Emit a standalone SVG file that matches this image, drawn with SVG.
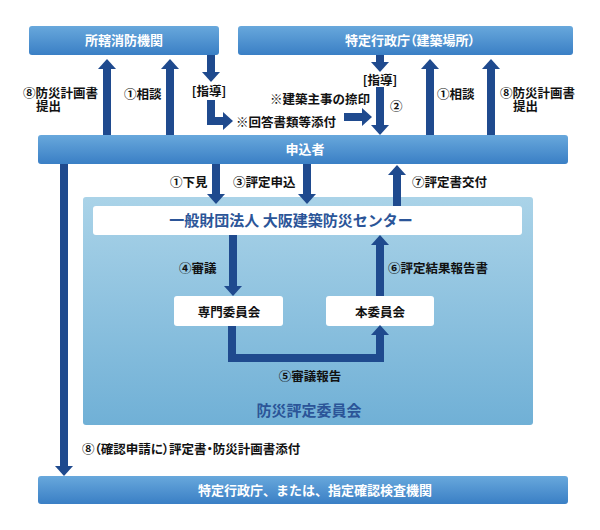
<svg xmlns="http://www.w3.org/2000/svg" width="600" height="530" viewBox="0 0 600 530">
<defs>
<linearGradient id="gBox" x1="0" y1="0" x2="0" y2="1">
<stop offset="0" stop-color="#68a8dc"/>
<stop offset="1" stop-color="#3a7fc5"/>
</linearGradient>
<linearGradient id="gPanel" x1="0" y1="0" x2="0" y2="1">
<stop offset="0" stop-color="#aad3e8"/>
<stop offset="1" stop-color="#70b0d6"/>
</linearGradient>
<marker id="ah" viewBox="0 0 10 18" refX="0" refY="9" markerWidth="10" markerHeight="18" markerUnits="userSpaceOnUse" orient="auto">
<path d="M0,0 L10,9 L0,18 z" fill="#1f4a8e"/>
</marker>
<style>
text{font-family:"Noto Sans CJK JP","Noto Sans",sans-serif;font-weight:bold}
.bx{fill:url(#gBox)}
.bt{fill:#ffffff;font-size:13px;text-anchor:middle}
.wb{fill:#ffffff}
.lb{fill:#111111;font-size:12.5px}
.nb{fill:#2b5598;font-size:15px;text-anchor:middle}
.p{font-feature-settings:"palt"}
.c{stroke:#1f4a8e;stroke-width:8;fill:none;marker-end:url(#ah)}
</style>
</defs>
<rect width="600" height="530" fill="#ffffff"/>

<g id="panel">
<rect x="83" y="197" width="450" height="228" rx="3" fill="url(#gPanel)"/>
<text class="nb" x="309" y="416">防災評定委員会</text>
</g>

<g id="fire">
<rect class="bx" x="29" y="26" width="190" height="29" rx="3"/>
<text class="bt" x="124" y="45">所轄消防機関</text>
</g>
<g id="gov">
<rect class="bx" x="238" y="26" width="335" height="29" rx="3"/>
<text class="bt p" x="410" y="45">特定行政庁（建築場所）</text>
</g>
<g id="applicant">
<rect class="bx" x="38" y="135" width="530" height="29" rx="3"/>
<text class="bt" x="305" y="154">申込者</text>
</g>
<g id="center">
<rect class="wb" x="93" y="206" width="429" height="29" rx="3"/>
<text class="nb" x="291" y="226">一般財団法人 大阪建築防災センター</text>
</g>
<g id="senmon">
<rect class="wb" x="174" y="296" width="109" height="30" rx="3"/>
<text class="lb" x="229" y="317" text-anchor="middle">専門委員会</text>
</g>
<g id="hon">
<rect class="wb" x="326" y="296" width="108" height="30" rx="3"/>
<text class="lb" x="380" y="317" text-anchor="middle">本委員会</text>
</g>
<g id="final">
<rect class="bx" x="38" y="476" width="530" height="28" rx="3"/>
<text class="bt" x="315" y="495">特定行政庁、または、指定確認検査機関</text>
</g>

<g id="connectors">
<path class="c" d="M107,135 V69"/>
<path class="c" d="M170,135 V69"/>
<path class="c" d="M211,55 V72"/>
<path class="c" d="M211,100 V121 H223" stroke-linejoin="miter"/>
<path class="c" d="M344,117 H362"/>
<path class="c" d="M380,55 V62"/>
<path class="c" d="M380,87 V125"/>
<path class="c" d="M430,135 V69"/>
<path class="c" d="M491,135 V69"/>
<path class="c" d="M64,164 V466"/>
<path class="c" d="M216,164 V194"/>
<path class="c" d="M307,164 V194"/>
<path class="c" d="M397,206 V175"/>
<path class="c" d="M233,235 V286"/>
<path class="c" d="M380,296 V245"/>
<path class="c" d="M232,326 V358 H380 V335" stroke-linejoin="miter"/>
</g>

<g id="labels">
<text class="lb" x="23" y="98">⑧防災計画書<tspan x="36" y="111">提出</tspan></text>
<text class="lb" x="124" y="99">①相談</text>
<text class="lb" x="209" y="96" text-anchor="middle">[指導]</text>
<text class="lb" x="370" y="104" text-anchor="end">※建築主事の捺印</text>
<text class="lb" x="236" y="127">※回答書類等添付</text>
<text class="lb" x="380" y="85" text-anchor="middle">[指導]</text>
<text class="lb" x="390" y="111">②</text>
<text class="lb" x="437" y="99">①相談</text>
<text class="lb" x="500" y="98">⑧防災計画書<tspan x="513" y="111">提出</tspan></text>
<text class="lb" x="170" y="187">①下見</text>
<text class="lb" x="233" y="187">③評定申込</text>
<text class="lb" x="412" y="187">⑦評定書交付</text>
<text class="lb" x="179" y="273">④審議</text>
<text class="lb" x="388" y="273">⑥評定結果報告書</text>
<text class="lb" x="310" y="381" text-anchor="middle">⑤審議報告</text>
<text class="lb p" x="82" y="454">⑧（確認申請に）評定書・防災計画書添付</text>
</g>
</svg>
